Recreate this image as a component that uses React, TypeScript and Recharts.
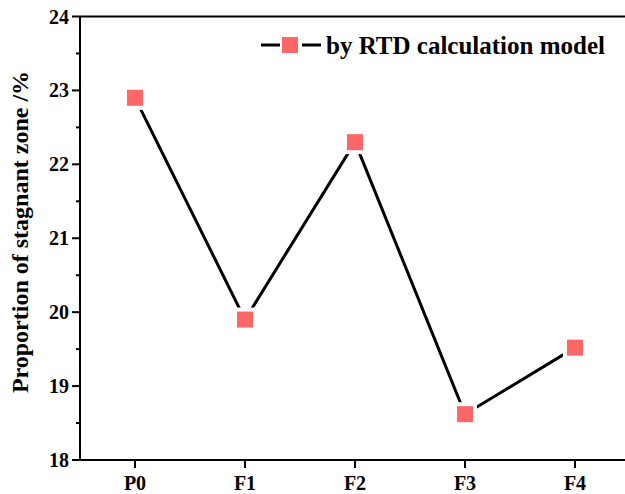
import { LineChart, Line, XAxis, YAxis, Legend, ReferenceLine, Label } from 'recharts';

const categories = ['P0', 'F1', 'F2', 'F3', 'F4'];
const stagnantZone = [22.9, 19.9, 22.3, 18.62, 19.52];
const yTicks = [18, 18.5, 19, 19.5, 20, 20.5, 21, 21.5, 22, 22.5, 23, 23.5, 24];

const seriesName = 'by RTD calculation model';
const yLabel = 'Proportion of stagnant zone /%';

const FONT = '"Liberation Serif", "Times New Roman", serif';
const MARKER = '#ff6666';

const data = categories.map((cat, i) => ({ cat, value: stagnantZone[i] }));

// major ticks get a label and a longer tick, half steps only a short tick
function YTick(props: any) {
  const { x, y, payload } = props;
  const major = Number.isInteger(payload.value);
  const len = major ? 8 : 4;
  return (
    <g>
      <rect x={x - len} y={y - 1} width={len} height={2} fill="#000" />
      {major && (
        <text x={x - 11} y={y} dy="0.35em" textAnchor="end" fontSize={20} fontWeight="bold" fontFamily={FONT} fill="#000">
          {payload.value}
        </text>
      )}
    </g>
  );
}

function SquareDot(props: any) {
  const { cx, cy, index } = props;
  return (
    <g key={'dot' + index}>
      <rect x={cx - 12} y={cy - 12} width={24} height={24} fill="#fff" />
      <rect x={cx - 8} y={cy - 8} width={16} height={16} fill={MARKER} />
    </g>
  );
}

function LegendBox() {
  return (
    <svg width={364} height={36} style={{ display: 'block' }}>
      <line x1={0} x2={19} y1={18} y2={18} stroke="#000" strokeWidth={3} />
      <rect x={21} y={10} width={16} height={16} fill={MARKER} />
      <line x1={41} x2={60} y1={18} y2={18} stroke="#000" strokeWidth={3} />
      <text x={65} y={18} dy="0.35em" fontSize={25} fontWeight="bold" fontFamily={FONT} fill="#000">
        {seriesName}
      </text>
    </svg>
  );
}

export default function App() {
  return (
    <div style={{ position: 'absolute', left: 0, top: 0, width: 625, height: 494, overflow: 'hidden', background: '#fff' }}>
      <LineChart width={640} height={494} data={data} margin={{ top: 16.5, right: 10, left: 0, bottom: 0 }}>
        <XAxis
          dataKey="cat"
          type="category"
          padding={{ left: 55, right: 55 }}
          height={34}
          axisLine={{ stroke: '#000', strokeWidth: 2 }}
          tickLine={{ stroke: '#000', strokeWidth: 2 }}
          tickSize={8}
          tickMargin={8}
          tick={{ fill: '#000', fontSize: 20, fontWeight: 'bold', fontFamily: FONT }}
        />
        <YAxis
          type="number"
          domain={[18, 24]}
          ticks={yTicks}
          interval={0}
          width={80}
          axisLine={{ stroke: '#000', strokeWidth: 2 }}
          tickLine={false}
          tickSize={0}
          tickMargin={0}
          tick={(p: any) => <YTick {...p} />}
        >
          <Label
            content={() => (
              <text
                x={20}
                y={232}
                transform="rotate(-90 20 232)"
                textAnchor="middle"
                dominantBaseline="central"
                fontSize={24}
                fontWeight="bold"
                fontFamily={FONT}
                fill="#000"
              >
                {yLabel}
              </text>
            )}
          />
        </YAxis>
        <ReferenceLine y={24} stroke="#000" strokeWidth={2} ifOverflow="visible" />
        <Legend
          layout="horizontal"
          verticalAlign="middle"
          align="center"
          wrapperStyle={{ position: 'absolute', left: 261, top: 27, width: 364, height: 36 }}
          content={() => <LegendBox />}
        />
        <Line
          type="linear"
          dataKey="value"
          name={seriesName}
          stroke="#000"
          strokeWidth={3}
          dot={<SquareDot />}
          activeDot={false}
          isAnimationActive={false}
        />
      </LineChart>
    </div>
  );
}
